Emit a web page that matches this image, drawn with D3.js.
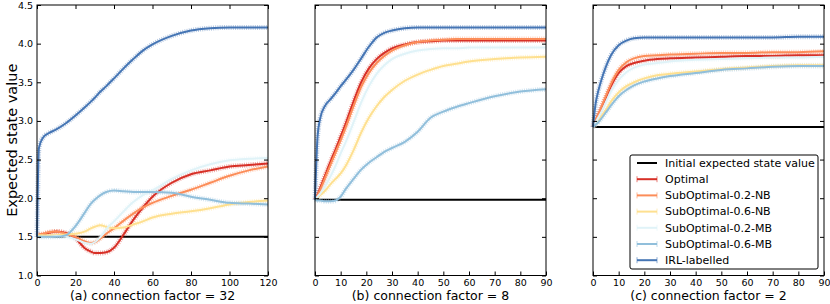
<!DOCTYPE html>
<html>
<head>
<meta charset="utf-8">
<script src="https://cdn.jsdelivr.net/npm/d3@7"></script>
<style>
    body { margin: 0; background: #fff; }
    svg { display: block; font-family: "DejaVu Sans", sans-serif; }
</style>
</head>
<body>
<div id="chart"></div>
<script>
// Series
const seriesNames = ["Optimal", "SubOptimal-0.2-NB", "SubOptimal-0.6-NB", "SubOptimal-0.2-MB", "SubOptimal-0.6-MB", "IRL-labelled"];
const seriesColors = ["#d73027", "#fc8d59", "#fee090", "#e0f3f8", "#91bfdb", "#4575b4"];
const baselineName = "Initial expected state value";

// (a) connection factor = 32
const tA = [0, 1, 3, 6, 10, 15, 20, 25, 28, 30, 33, 36, 40, 45, 50, 55, 60, 70, 80, 90, 100, 110, 120];
const optimalA = [1.52, 1.52, 1.53, 1.55, 1.57, 1.55, 1.48, 1.35, 1.31, 1.29, 1.29, 1.30, 1.36, 1.53, 1.72, 1.88, 2.02, 2.20, 2.31, 2.36, 2.41, 2.43, 2.45];
const nb02A = [1.52, 1.53, 1.54, 1.56, 1.57, 1.54, 1.50, 1.44, 1.42, 1.43, 1.48, 1.54, 1.61, 1.71, 1.80, 1.88, 1.94, 2.03, 2.11, 2.20, 2.29, 2.36, 2.41];
const nb06A = [1.52, 1.52, 1.52, 1.52, 1.52, 1.53, 1.54, 1.57, 1.61, 1.63, 1.65, 1.63, 1.61, 1.62, 1.66, 1.70, 1.75, 1.80, 1.83, 1.87, 1.92, 1.95, 1.97];
const mb02A = [1.50, 1.50, 1.50, 1.50, 1.51, 1.50, 1.47, 1.42, 1.41, 1.43, 1.50, 1.60, 1.70, 1.83, 1.95, 2.04, 2.10, 2.25, 2.36, 2.44, 2.49, 2.51, 2.52];
const mb06A = [1.50, 1.50, 1.50, 1.50, 1.50, 1.52, 1.64, 1.82, 1.93, 1.98, 2.04, 2.08, 2.10, 2.09, 2.08, 2.08, 2.08, 2.07, 2.02, 1.98, 1.94, 1.93, 1.92];
const irlA = [1.50, 2.65, 2.78, 2.84, 2.89, 2.97, 3.07, 3.18, 3.25, 3.30, 3.38, 3.45, 3.55, 3.68, 3.80, 3.91, 3.99, 4.10, 4.17, 4.20, 4.21, 4.21, 4.21];
const initialA = 1.5;

// (b) connection factor = 8
const tB = [0, 1, 2, 4, 6, 8, 10, 12, 15, 18, 21, 24, 27, 30, 35, 40, 45, 50, 55, 60, 70, 80, 90];
const optimalB = [1.98, 2.05, 2.13, 2.30, 2.47, 2.63, 2.80, 2.97, 3.25, 3.50, 3.68, 3.80, 3.88, 3.94, 3.99, 4.02, 4.03, 4.04, 4.04, 4.04, 4.04, 4.04, 4.04];
const nb02B = [1.98, 2.04, 2.11, 2.27, 2.43, 2.59, 2.75, 2.92, 3.19, 3.44, 3.62, 3.75, 3.84, 3.91, 3.98, 4.02, 4.04, 4.05, 4.06, 4.06, 4.06, 4.06, 4.06];
const nb06B = [1.98, 2.01, 2.04, 2.10, 2.18, 2.25, 2.32, 2.42, 2.62, 2.85, 3.04, 3.19, 3.31, 3.40, 3.52, 3.60, 3.66, 3.71, 3.74, 3.77, 3.80, 3.82, 3.83];
const mb02B = [1.98, 2.02, 2.06, 2.16, 2.28, 2.42, 2.58, 2.73, 2.98, 3.24, 3.45, 3.61, 3.72, 3.80, 3.87, 3.91, 3.93, 3.94, 3.94, 3.95, 3.95, 3.95, 3.95];
const mb06B = [1.98, 1.97, 1.97, 1.96, 1.96, 1.97, 2.02, 2.12, 2.25, 2.37, 2.46, 2.53, 2.60, 2.65, 2.73, 2.86, 3.04, 3.12, 3.18, 3.23, 3.32, 3.38, 3.41];
const irlB = [1.98, 2.80, 3.03, 3.20, 3.28, 3.36, 3.45, 3.53, 3.66, 3.81, 3.96, 4.08, 4.14, 4.17, 4.20, 4.21, 4.21, 4.21, 4.21, 4.21, 4.21, 4.21, 4.21];
const initialB = 1.98;

// (c) connection factor = 2
const tC = [0, 1, 2, 3, 5, 7, 10, 13, 16, 20, 25, 30, 40, 50, 60, 70, 80, 90];
const optimalC = [2.92, 3.00, 3.08, 3.15, 3.30, 3.45, 3.62, 3.71, 3.75, 3.78, 3.80, 3.81, 3.82, 3.83, 3.84, 3.84, 3.85, 3.85];
const nb02C = [2.92, 3.00, 3.08, 3.16, 3.32, 3.48, 3.66, 3.76, 3.81, 3.84, 3.85, 3.86, 3.87, 3.88, 3.88, 3.89, 3.89, 3.90];
const nb06C = [2.92, 2.96, 3.00, 3.05, 3.14, 3.25, 3.37, 3.45, 3.50, 3.55, 3.59, 3.61, 3.64, 3.67, 3.69, 3.71, 3.72, 3.72];
const mb02C = [2.92, 2.98, 3.04, 3.10, 3.24, 3.38, 3.53, 3.63, 3.69, 3.73, 3.75, 3.77, 3.79, 3.80, 3.81, 3.82, 3.82, 3.83];
const mb06C = [2.92, 2.95, 2.98, 3.02, 3.11, 3.20, 3.32, 3.40, 3.46, 3.51, 3.55, 3.58, 3.62, 3.66, 3.68, 3.70, 3.71, 3.71];
const irlC = [2.92, 3.22, 3.38, 3.50, 3.70, 3.85, 3.98, 4.04, 4.07, 4.08, 4.08, 4.08, 4.08, 4.08, 4.08, 4.08, 4.09, 4.09];
const initialC = 2.92;

// Axes
const yTicks = [1.0, 1.5, 2.0, 2.5, 3.0, 3.5, 4.0, 4.5];
const xTicksA = [0, 20, 40, 60, 80, 100, 120];
const xTicksBC = [0, 10, 20, 30, 40, 50, 60, 70, 80, 90];

const panels = [
    { title: "(a) connection factor = 32", t: tA, xMax: 120, xTicks: xTicksA, initial: initialA,
      values: [optimalA, nb02A, nb06A, mb02A, mb06A, irlA], left: 37 },
    { title: "(b) connection factor = 8", t: tB, xMax: 90, xTicks: xTicksBC, initial: initialB,
      values: [optimalB, nb02B, nb06B, mb02B, mb06B, irlB], left: 315 },
    { title: "(c) connection factor = 2", t: tC, xMax: 90, xTicks: xTicksBC, initial: initialC,
      values: [optimalC, nb02C, nb06C, mb02C, mb06C, irlC], left: 593 },
];

// Dimensions
let dimensions = {
    width: 830,
    height: 304,
    panelWidth: 231,
    top: 5,
    panelHeight: 270.5,
}

const svg = d3.select("#chart")
    .append("svg")
    .attr("width", dimensions.width)
    .attr("height", dimensions.height)

const yScale = d3.scaleLinear()
    .domain([1.0, 4.5])
    .range([dimensions.panelHeight, 0])

panels.forEach((p, i) => {
    const ctnr = svg.append("g")
        .attr("transform", `translate(${p.left}, ${dimensions.top})`)

    const xScale = d3.scaleLinear()
        .domain([0, p.xMax])
        .range([0, dimensions.panelWidth])

    const line = d3.line()
        .x((d) => xScale(d[0]))
        .y((d) => yScale(d[1]))
        .curve(d3.curveMonotoneX)

    // baseline
    ctnr.append("path")
        .attr("d", line([[0, p.initial], [p.xMax, p.initial]]))
        .attr("fill", "none")
        .attr("stroke", "#000")
        .attr("stroke-width", 2)

    const series = p.values.map((vals, k) => ({
        color: seriesColors[k],
        points: p.t.map((t, j) => [t, vals[j]])
    }))

    // error-bar texture
    ctnr.selectAll("path.bars")
        .data(series)
        .join("path")
        .attr("class", "bars")
        .attr("d", (d) => line(d.points))
        .attr("fill", "none")
        .attr("stroke", (d) => d.color)
        .attr("stroke-opacity", 0.4)
        .attr("stroke-width", 5)
        .attr("stroke-dasharray", "1 1.2")

    ctnr.selectAll("path.series")
        .data(series)
        .join("path")
        .attr("class", "series")
        .attr("d", (d) => line(d.points))
        .attr("fill", "none")
        .attr("stroke", (d) => d.color)
        .attr("stroke-width", 2)

    // axes, ticks pointing inwards on all four sides
    const bottom = ctnr.append("g")
        .attr("transform", `translate(0, ${dimensions.panelHeight})`)
        .call(d3.axisBottom(xScale).tickValues(p.xTicks).tickSizeInner(-4).tickSizeOuter(0).tickPadding(4))
    const top = ctnr.append("g")
        .call(d3.axisTop(xScale).tickValues(p.xTicks).tickSizeInner(-4).tickSizeOuter(0).tickFormat(""))
    const left = ctnr.append("g")
        .call(d3.axisLeft(yScale).tickValues(yTicks).tickSizeInner(-4).tickSizeOuter(0).tickPadding(4)
            .tickFormat(i === 0 ? d3.format(".1f") : ""))
    const right = ctnr.append("g")
        .attr("transform", `translate(${dimensions.panelWidth}, 0)`)
        .call(d3.axisRight(yScale).tickValues(yTicks).tickSizeInner(-4).tickSizeOuter(0).tickFormat(""))

    ;[bottom, top, left, right].forEach((a) => {
        a.select(".domain").remove()
        a.selectAll("text")
            .attr("fill", "#000")
            .style("font-family", "DejaVu Sans")
            .style("font-size", "9.5px")
    })

    ctnr.append("rect")
        .attr("width", dimensions.panelWidth)
        .attr("height", dimensions.panelHeight)
        .attr("fill", "none")
        .attr("stroke", "#000")
        .attr("stroke-width", 1)

    svg.append("text")
        .attr("x", p.left + dimensions.panelWidth / 2)
        .attr("y", 300)
        .attr("text-anchor", "middle")
        .style("font-size", "12.5px")
        .text(p.title)
})

// y label
svg.append("text")
    .attr("transform", `translate(17, ${dimensions.top + dimensions.panelHeight / 2}) rotate(-90)`)
    .attr("text-anchor", "middle")
    .style("font-size", "14.5px")
    .text("Expected state value")

// Legend
const legend = svg.append("g")
    .attr("transform", "translate(630, 155)")

legend.append("rect")
    .attr("width", 188)
    .attr("height", 114)
    .attr("rx", 2)
    .attr("fill", "#fff")
    .attr("stroke", "#000")
    .attr("stroke-width", 1)

const legendItems = [{ name: baselineName, color: "#000", bars: false }]
    .concat(seriesNames.map((n, k) => ({ name: n, color: seriesColors[k], bars: true })))

const rows = legend.selectAll("g.row")
    .data(legendItems)
    .join("g")
    .attr("class", "row")
    .attr("transform", (d, k) => `translate(0, ${8 + k * 16.2})`)

rows.append("line")
    .attr("x1", 7).attr("x2", 27)
    .attr("stroke", (d) => d.color)
    .attr("stroke-width", 2)

rows.filter((d) => d.bars)
    .selectAll("line.cap")
    .data((d) => [7, 27].map((x) => ({ x, color: d.color })))
    .join("line")
    .attr("class", "cap")
    .attr("x1", (d) => d.x).attr("x2", (d) => d.x)
    .attr("y1", -3).attr("y2", 3)
    .attr("stroke", (d) => d.color)
    .attr("stroke-opacity", 0.6)
    .attr("stroke-width", 1)

rows.append("text")
    .attr("x", 35)
    .attr("dy", "0.35em")
    .style("font-size", "11px")
    .text((d) => d.name)
</script>
</body>
</html>
